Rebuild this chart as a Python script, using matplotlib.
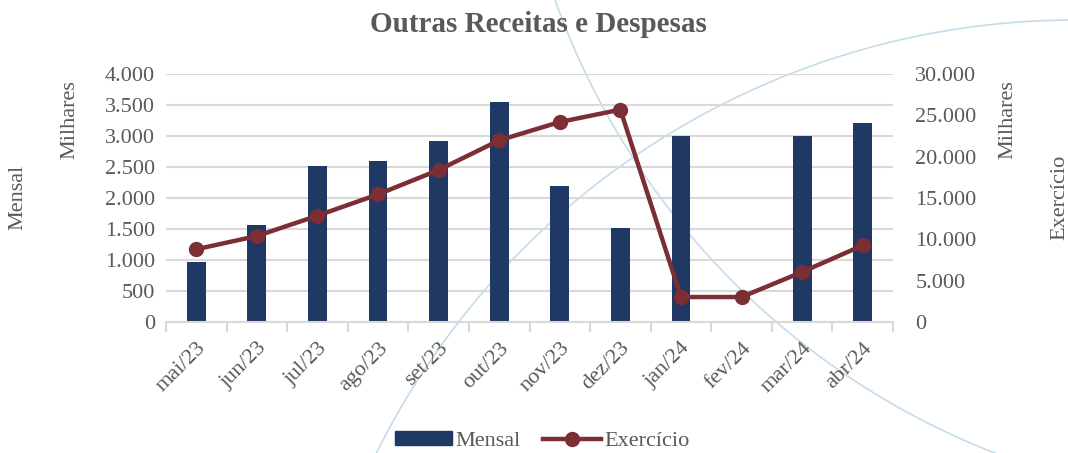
import matplotlib.pyplot as plt
from matplotlib.patches import Circle
from matplotlib.lines import Line2D
from matplotlib.patches import Patch
from matplotlib.ticker import FuncFormatter, FixedLocator

plt.rcParams['font.family'] = ['Liberation Serif', 'DejaVu Serif']

# data (thousands)
months = ["mai/23", "jun/23", "jul/23", "ago/23", "set/23", "out/23",
          "nov/23", "dez/23", "jan/24", "fev/24", "mar/24", "abr/24"]
mensal = [970, 1565, 2520, 2590, 2920, 3545, 2200, 1520, 2995, 0, 3000, 3205]
exercicio = [8800, 10400, 12860, 15440, 18390, 21980,
             24190, 25690, 3020, 3020, 6050, 9270]

navy = "#1F3864"
maroon = "#7B2E33"
grey_txt = "#595959"
grid_c = "#D9D9D9"
arc_c = "#C5DCEA"
fs = 16

W, H = 1068, 453
fig = plt.figure(figsize=(W / 100, H / 100), dpi=100)

# decorative background arcs
bg = fig.add_axes([0, 0, 1, 1], zorder=0)
bg.set_xlim(0, W)
bg.set_ylim(H, 0)
bg.axis("off")
bg.add_patch(Circle((1075, 800), 780, fill=False, color=arc_c, lw=1.2))
bg.add_patch(Circle((1271, -255), 760, fill=False, color=arc_c, lw=1.2))

ax = fig.add_axes([166 / W, 1 - 322 / H, (893 - 166) / W, (322 - 74) / H], zorder=1)
ax.patch.set_alpha(0)
x = list(range(len(months)))
ax.bar(x, mensal, width=0.31, color=navy, zorder=2)
ax.set_ylim(0, 4000)
ax.set_xlim(-0.5, len(months) - 0.5)
ax.set_yticks(range(0, 4001, 500))
ax.yaxis.grid(True, color=grid_c, lw=1.5)
ax.set_axisbelow(True)

fmt = FuncFormatter(lambda v, p: f"{int(v):,}".replace(",", "."))
ax.yaxis.set_major_formatter(fmt)

ax.set_xticks(x)
ax.set_xticklabels(months, rotation=45, ha="right", rotation_mode="anchor")
ax.xaxis.set_minor_locator(FixedLocator([i - 0.5 for i in range(len(months) + 1)]))
ax.tick_params(axis="x", which="major", length=0, pad=12, labelsize=fs, labelcolor=grey_txt)
ax.tick_params(axis="x", which="minor", length=7, color=grid_c, width=1.5)
ax.tick_params(axis="y", length=0, labelsize=fs, labelcolor=grey_txt, pad=8)
for s in ["top", "left", "right"]:
    ax.spines[s].set_visible(False)
ax.spines["bottom"].set_color(grid_c)
ax.spines["bottom"].set_linewidth(1.5)

ax2 = ax.twinx()
ax2.plot(x, exercicio, color=maroon, lw=3.2, marker="o", ms=10, zorder=3)
ax2.set_ylim(0, 30000)
ax2.set_yticks(range(0, 30001, 5000))
ax2.yaxis.set_major_formatter(fmt)
ax2.tick_params(axis="y", length=0, labelsize=fs, labelcolor=grey_txt, pad=16)
for s in ax2.spines.values():
    s.set_visible(False)

fig.text(538 / W, 1 - 25 / H, "Outras Receitas e Despesas", ha="center", va="center",
         fontsize=21, fontweight="bold", color=grey_txt)
fig.text(70 / W, 1 - 120 / H, "Milhares", rotation=90, ha="center", va="center",
         fontsize=fs, color=grey_txt)
fig.text(18 / W, 1 - 197 / H, "Mensal", rotation=90, ha="center", va="center",
         fontsize=fs, color=grey_txt)
fig.text(1008 / W, 1 - 120 / H, "Milhares", rotation=90, ha="center", va="center",
         fontsize=fs, color=grey_txt)
fig.text(1060 / W, 1 - 197 / H, "Exercício", rotation=90, ha="center", va="center",
         fontsize=fs, color=grey_txt)

handles = [Patch(color=navy, label="Mensal"),
           Line2D([], [], color=maroon, lw=3.2, marker="o", ms=10, label="Exercício")]
leg = fig.legend(handles=handles, loc="center", bbox_to_anchor=(542 / W, 1 - 441 / H),
                 ncol=2, frameon=False, fontsize=fs, handlelength=2.6, handleheight=0.55,
                 handletextpad=0.15, columnspacing=1.0)
for t in leg.get_texts():
    t.set_color(grey_txt)

fig.savefig("out.png", dpi=100)
